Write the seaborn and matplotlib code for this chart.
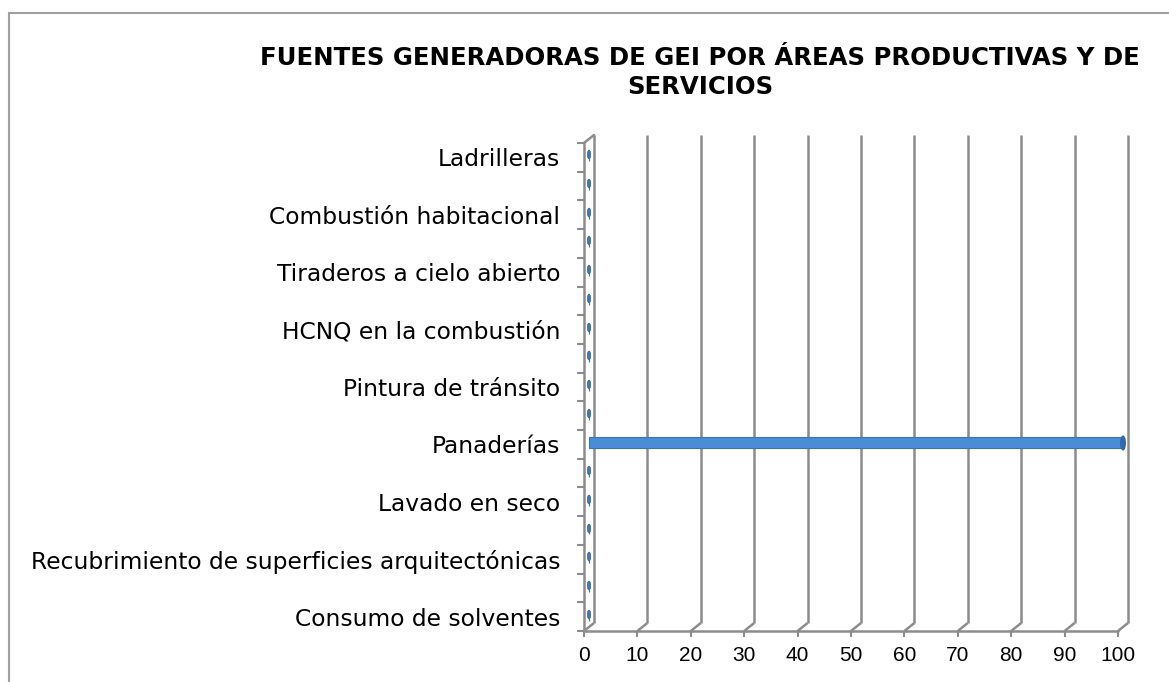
import numpy as np
import pandas as pd
import matplotlib
matplotlib.use("Agg")
import matplotlib.pyplot as plt
import seaborn as sns
from matplotlib.path import Path
from matplotlib.transforms import Affine2D, ScaledTranslation
from matplotlib.lines import Line2D

# ---------------- data ----------------
titulo = "FUENTES GENERADORAS DE GEI POR ÁREAS PRODUCTIVAS Y DE\nSERVICIOS"
categorias = [
    "Ladrilleras", "", "Combustión habitacional", "",
    "Tiraderos a cielo abierto", "", "HCNQ en la combustión", "",
    "Pintura de tránsito", "", "Panaderías", "", "Lavado en seco", "",
    "Recubrimiento de superficies arquitectónicas", "", "Consumo de solventes",
]
valores = [0, 0, 0, 0, 0, 0, 0, 0, 0, 0, 100, 0, 0, 0, 0, 0, 0]
x_ticks = [0, 10, 20, 30, 40, 50, 60, 70, 80, 90, 100]

# ---------------- style ----------------
sns.set_theme(style="white")
plt.rcParams["font.family"] = ["Liberation Sans", "DejaVu Sans"]

W, H = 1169, 682
fig = plt.figure(figsize=(W / 100, H / 100), dpi=100)
L, R, T, B = 584, 1118, 143, 631
ax = fig.add_axes([L / W, 1 - B / H, (R - L) / W, (B - T) / H])

df = pd.DataFrame({"pos": np.arange(len(categorias)), "valor": valores})
n = len(categorias)

grid_c = "#8C8C8C"
bar_c = "#4A8DD6"

# depth offsets (back wall) in data units
px_x = (R - L) / 100.0
px_y = (B - T) / n
dxu = 10 / px_x
dyu = 8 / px_y
top = -0.5
bot = n - 0.5

# bars (seaborn)
sns.barplot(data=df, x="valor", y="pos", orient="h", native_scale=True,
            width=0.38, color=bar_c, saturation=1, ax=ax, zorder=5)
off_bar = ScaledTranslation(4.5 / 100, 1.5 / 100, fig.dpi_scale_trans)
for p in ax.patches:
    p.set_transform(ax.transData + off_bar)
    p.set_edgecolor("#3A74B8")
    p.set_linewidth(0.8)
    p.set_clip_on(False)

# zero-value caps (small ellipses)
ellipse = Path.unit_circle().transformed(Affine2D().scale(0.4, 1.0))
zeros = df[df["valor"] == 0]
sns.scatterplot(data=zeros, x="valor", y="pos", marker=ellipse, s=40,
                color="#3F78B5", edgecolor="#2A5A8C", linewidth=0.4,
                ax=ax, zorder=6, legend=False)
off_pt = ScaledTranslation(4.5 / 100, 3 / 100, fig.dpi_scale_trans)
for c in ax.collections:
    c.set_transform(c.get_transform() + off_pt)
    c.set_clip_on(False)

# end cap of non-zero bars
nz = df[df["valor"] > 0]
sc = ax.scatter(nz["valor"], nz["pos"], marker=ellipse, s=120,
                color="#3569A8", linewidths=0, zorder=7)
sc.set_transform(sc.get_transform() + off_bar)
sc.set_clip_on(False)

# 3D-like walls and gridlines
lw = 1.8
for k in x_ticks:
    ax.plot([k, k + dxu], [bot, bot - dyu], color=grid_c, lw=lw, zorder=1,
            clip_on=False, solid_capstyle="butt")
    ax.plot([k + dxu, k + dxu], [bot - dyu, top - dyu], color=grid_c, lw=lw,
            zorder=1, clip_on=False, solid_capstyle="butt")
ax.plot([0, 100], [bot, bot], color=grid_c, lw=lw, zorder=2, clip_on=False)
ax.plot([0, 0], [bot, top], color=grid_c, lw=lw, zorder=2, clip_on=False)
ax.plot([0, dxu], [top, top - dyu], color=grid_c, lw=lw, zorder=2, clip_on=False)

ax.set_xlim(0, 100)
ax.set_ylim(bot, top)
for s in ax.spines.values():
    s.set_visible(False)

ax.set_xticks(x_ticks)
ax.set_xticklabels([str(v) for v in x_ticks])
ax.tick_params(axis="x", bottom=True, length=4, width=1.5, color=grid_c,
               pad=7, labelsize=15, labelcolor="black")

lab_pos = [i for i, c in enumerate(categorias) if c]
ax.set_yticks(lab_pos)
ax.set_yticklabels([categorias[i] for i in lab_pos],
                   fontfamily="DejaVu Sans", fontsize=16.8)
ax.set_yticks(np.arange(top, bot + 0.01, 1.0), minor=True)
ax.tick_params(axis="y", which="major", left=True, length=0, pad=17,
               labelcolor="black")
ax.tick_params(axis="y", which="minor", left=True, length=5, width=1.5,
               color=grid_c)
ax.set_xlabel("")
ax.set_ylabel("")
ax.grid(False)

# title
fig.text(700 / W, 1 - 72.5 / H, titulo, ha="center", va="center",
         fontsize=17.6, fontweight="bold", family="DejaVu Sans",
         linespacing=1.22, color="black")

# chart area border
fig.add_artist(Line2D([9 / W, 9 / W], [0, 1 - 13 / H], color="#A0A0A0", lw=1.5))
fig.add_artist(Line2D([9 / W, 1], [1 - 13 / H, 1 - 13 / H], color="#A0A0A0", lw=1.5))

fig.savefig("out.png", dpi=100)
